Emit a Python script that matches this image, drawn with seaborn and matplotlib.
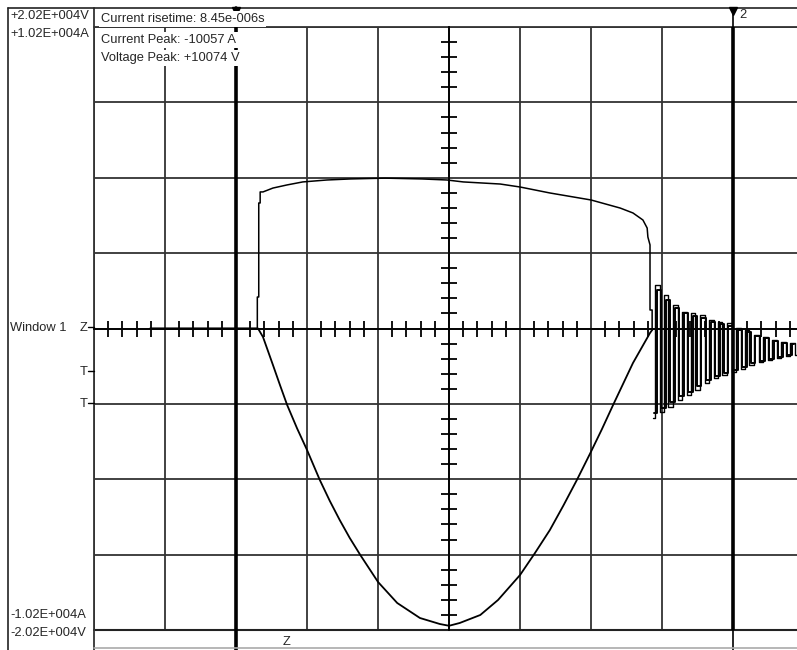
import matplotlib
matplotlib.use("Agg")
import matplotlib.pyplot as plt
from matplotlib.lines import Line2D
from matplotlib.ticker import MultipleLocator, NullFormatter
import pandas as pd
import seaborn as sns

# ---------------- data (time in µs, 10 µs per division) ----------------
volt_time = [7.9, 23.0, 23.0, 23.2, 23.2, 23.4, 23.4, 23.8, 25.2, 27.2,
             29.4, 32.8, 36.1, 41.0, 46.2, 49.7, 52.0, 57.2, 60.0, 64.2,
             70.0, 74.1, 75.9, 77.3, 77.9, 78.0, 78.3, 78.3, 78.6, 78.6]
volt_value = [0, 0, 2110, 2110, 8410, 8410, 9150, 9150, 9410, 9620,
              9820, 9950, 10020, 10074, 10020, 9950, 9820, 9680, 9480, 9080,
              8610, 8070, 7740, 7270, 6730, 6130, 5600, 1240, 1240, -100]

ring_v_time = [78.7, 79.4, 80.0, 80.6, 81.2, 81.9, 82.5, 83.2, 83.8, 84.4,
               85.0, 85.7, 86.3, 87.0, 87.6, 88.2, 88.8, 89.5, 90.1, 90.8,
               91.4, 92.0, 92.6, 93.3, 93.9, 94.6, 95.2, 95.8, 96.5, 97.1,
               97.7, 98.4, 99.0]
ring_v_value = [-6000, 2915, -5595, 2245, -5260, 1575, -4790, 1105, -4455, 1040,
                -4120, 905, -3650, 570, -3315, 435, -3115, 370, -2915, 35,
                -2715, -100, -2445, -435, -2245, -570, -2110, -770, -1975, -905,
                -1840, -970, -1800]

cur_time = [7.9, 23.1, 23.8, 25.2, 26.2, 27.2, 28.6, 30.0, 31.8, 33.2,
            34.6, 36.0, 37.5, 40.0, 42.7, 45.9, 48.7, 50.0, 51.5, 54.4,
            56.9, 60.0, 62.1, 64.2, 66.1, 68.0, 69.9, 71.5, 73.1, 75.9,
            78.3, 78.7]
cur_value = [0, 0, -288, -1235, -1920, -2588, -3380, -4110, -5125, -5830,
             -6478, -7080, -7662, -8576, -9286, -9794, -9997, -10057, -9963, -9692,
             -9184, -8339, -7595, -6817, -5990, -5125, -4212, -3420, -2588, -1167,
             -152, -17]

ring_i_time = [78.9, 79.6, 80.2, 80.8, 81.4, 82.1, 82.7, 83.4, 84.0, 84.6,
               85.2, 85.9, 86.5, 87.2, 87.8, 88.4, 89.0, 89.7, 90.3, 91.0,
               91.6, 92.2, 92.8, 93.5, 94.1, 94.8, 95.4, 96.0, 96.7, 97.3,
               97.9, 98.6]
ring_i_value = [-2859, 1302, -2689, 964, -2486, 694, -2283, 524, -2148, 423,
                -1945, 355, -1742, 220, -1607, 152, -1505, 85, -1404, -51,
                -1302, -118, -1167, -254, -1099, -321, -1032, -423, -964, -490,
                -896, -524]

cursor_times = [20, 90]
v_range = 20200
i_range = 10200

left_labels = ["+2.02E+004V", "+1.02E+004A", "-1.02E+004A", "-2.02E+004V"]
info_lines = ["Current risetime: 8.45e-006s", "Current Peak: -10057 A",
              "Voltage Peak: +10074 V"]

# ---------------- styling ----------------
sns.set_theme(style="white")
plt.rcParams['font.family'] = ['Liberation Sans', 'DejaVu Sans']

W, H = 797, 650
def fx(px):
    return px / W
def fy(py):
    return 1 - py / H

fig = plt.figure(figsize=(W / 100, H / 100), dpi=100)
fig.patch.set_facecolor('white')
ax = fig.add_axes([fx(94), 20 / H, (797 - 94) / W, 603 / H])
ax.patch.set_alpha(0)

vdf = pd.DataFrame({"t": volt_time, "v": volt_value})
rvdf = pd.DataFrame({"t": ring_v_time, "v": ring_v_value})
sns.lineplot(data=vdf, x="t", y="v", ax=ax, color="black", lw=1.1,
             sort=False, estimator=None, legend=False)
sns.lineplot(data=rvdf, x="t", y="v", ax=ax, color="black", lw=1.0,
             sort=False, estimator=None, legend=False, drawstyle="steps-mid")

# current on its own scale
ax2 = ax.twinx()
cdf = pd.DataFrame({"t": cur_time, "i": cur_value})
ridf = pd.DataFrame({"t": ring_i_time, "i": ring_i_value})
sns.lineplot(data=cdf, x="t", y="i", ax=ax2, color="black", lw=1.3,
             sort=False, estimator=None, legend=False)
sns.lineplot(data=ridf, x="t", y="i", ax=ax2, color="black", lw=1.4,
             sort=False, estimator=None, legend=False, drawstyle="steps-mid")
ax2.set_ylim(-i_range, i_range)
ax2.set_xlim(0, 99.0)
ax2.set_ylabel("")
ax2.set_yticks([])
ax2.grid(False)
for s in ax2.spines.values():
    s.set_visible(False)

ax.set_xlim(0, 99.0)
ax.set_ylim(-v_range, v_range)
ax.set_xlabel("")
ax.set_ylabel("")

ax.xaxis.set_major_locator(MultipleLocator(10))
ax.xaxis.set_minor_locator(MultipleLocator(2))
ax.yaxis.set_major_locator(MultipleLocator(v_range / 4))
ax.yaxis.set_minor_locator(MultipleLocator(v_range / 20))
ax.xaxis.set_major_formatter(NullFormatter())
ax.yaxis.set_major_formatter(NullFormatter())
ax.grid(True, which='major', color='#333333', lw=1.3)
ax.set_axisbelow(True)

ax.spines['bottom'].set_position(('data', 0))
ax.spines['left'].set_position(('data', 50))
ax.spines['top'].set_visible(False)
ax.spines['right'].set_visible(False)
for s in ('bottom', 'left'):
    ax.spines[s].set_color('black')
    ax.spines[s].set_linewidth(1.3)
ax.tick_params(which='both', bottom=True, left=True, top=False, right=False)
ax.tick_params(which='major', length=0)
ax.tick_params(which='minor', direction='inout', length=11, width=1.3, color='black')

# frame edges of the grid
ax.axhline(v_range, color='#333333', lw=1.3, clip_on=False)
ax.axhline(-v_range, color='#222222', lw=1.5, clip_on=False)
ext_lo, ext_hi = -20 / 603, 1 + 19 / 603
ax.axvline(0, ymin=ext_lo, ymax=ext_hi, color='#333333', lw=1.3, clip_on=False)
# cursors
ax.axvline(cursor_times[0], ymin=ext_lo, ymax=ext_hi, color='black', lw=2.6, clip_on=False)
ax.axvline(cursor_times[1], ymin=0, ymax=1, color='black', lw=2.6)
ax.axvline(cursor_times[1], ymin=ext_lo, ymax=ext_hi, color='black', lw=1.2, clip_on=False)

# ---------------- outer frame (figure level) ----------------
fig.add_artist(Line2D([fx(8), fx(8)], [fy(8), fy(650)], color='#222222', lw=1.2))
fig.add_artist(Line2D([fx(8), fx(797)], [fy(8), fy(8)], color='#222222', lw=1.2))
fig.add_artist(Line2D([fx(94), fx(797)], [fy(648), fy(648)], color='#aaaaaa', lw=1.2))

# cursor markers
for px in (236, 733):
    fig.add_artist(Line2D([fx(px)], [fy(11)], marker='v', markersize=6,
                          color='black', lw=0))

fs = 9.3
fig.text(fx(739), fy(15), "2", fontsize=fs, va='center', ha='left')

# left labels
fig.text(fx(10), fy(16), left_labels[0], fontsize=fs, va='center')
fig.text(fx(10), fy(34), left_labels[1], fontsize=fs, va='center')
fig.text(fx(10), fy(615), left_labels[2], fontsize=fs, va='center')
fig.text(fx(10), fy(633), left_labels[3], fontsize=fs, va='center')
fig.text(fx(10), fy(328), "Window 1", fontsize=fs, va='center')
for py, lab in ((328, "Z"), (372, "T"), (404, "T")):
    fig.text(fx(88), fy(py), lab, fontsize=fs, va='center', ha='right')
    fig.add_artist(Line2D([fx(88), fx(94)], [fy(py - 1), fy(py - 1)],
                          color='black', lw=1.0))
fig.text(fx(283), fy(636), "Z", fontsize=fs, va='top', ha='left')

# info box lines
box = dict(facecolor='white', edgecolor='none', pad=1.2)
for py, line in zip((19, 40, 58), info_lines):
    fig.text(fx(101), fy(py), line, fontsize=fs, va='center', ha='left',
             bbox=box, zorder=5)

fig.savefig("out.png", dpi=100, facecolor='white')
